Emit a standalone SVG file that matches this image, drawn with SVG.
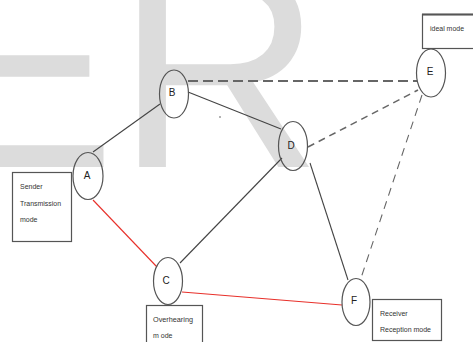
<svg xmlns="http://www.w3.org/2000/svg" width="473" height="342" viewBox="0 0 473 342">
<style>
.wm{font-family:"Liberation Sans",Arial,sans-serif;font-size:286px;fill:#dcdcdc}
.node ellipse{fill:none;stroke:#555;stroke-width:1.2}
.lbl{font-family:"Liberation Sans",Arial,sans-serif;font-size:10px;fill:#222;text-anchor:middle}
.box rect{fill:#fff;stroke:#555;stroke-width:1.2}
.bt{font-family:"Liberation Sans",Arial,sans-serif;font-size:7px;fill:#333}
.solid{stroke:#444;stroke-width:1.1;fill:none}
.red{stroke:#e8302a;stroke-width:1.1;fill:none}
.dash{stroke:#666;fill:none}
</style>
<rect width="473" height="342" fill="#fff"/>
<text class="wm" x="-75" y="167">ER</text>
<g id="connectors">
<line class="solid" x1="93" y1="152" x2="160" y2="104"/>
<line class="solid" x1="188" y1="92" x2="281" y2="129" stroke-width="1.4"/>
<line class="dash" x1="188" y1="81" x2="417" y2="81" stroke-width="2" stroke-dasharray="10 5"/>
<line class="dash" x1="308" y1="147" x2="418" y2="90" stroke-width="1.5" stroke-dasharray="7 5"/>
<line class="dash" x1="422" y1="95" x2="361" y2="278" stroke-width="1.1" stroke-dasharray="8 6"/>
<line class="solid" x1="282" y1="158" x2="180" y2="263"/>
<line class="solid" x1="310" y1="163" x2="348" y2="280"/>
<line class="red" x1="93" y1="200" x2="157" y2="267"/>
<line class="red" x1="182" y1="292" x2="342" y2="305" stroke-width="1.4"/>
</g>
<circle cx="220" cy="117" r="0.8" fill="#555"/>
<g id="node-A" class="node"><ellipse cx="88" cy="176" rx="15" ry="23.5"/><text class="lbl" x="87" y="179">A</text></g>
<g id="node-B" class="node"><ellipse cx="174" cy="94" rx="14.5" ry="24"/><text class="lbl" x="172" y="96">B</text></g>
<g id="node-C" class="node"><ellipse cx="168" cy="281" rx="14.5" ry="23.5"/><text class="lbl" x="166" y="284">C</text></g>
<g id="node-D" class="node"><ellipse cx="293" cy="146" rx="14.5" ry="24.5"/><text class="lbl" x="291" y="149">D</text></g>
<g id="node-E" class="node"><ellipse cx="431" cy="73" rx="14.5" ry="24"/><text class="lbl" x="430" y="75">E</text></g>
<g id="node-F" class="node"><ellipse cx="356" cy="302" rx="14" ry="23.5"/><text class="lbl" x="354" y="304">F</text></g>
<g id="box-sender" class="box"><rect x="12.5" y="172.5" width="59" height="69"/>
<text class="bt" x="20" y="189">Sender</text>
<text class="bt" x="20" y="206" textLength="41" lengthAdjust="spacingAndGlyphs">Transmission</text>
<text class="bt" x="20" y="222">mode</text></g>
<g id="box-overhearing" class="box"><rect x="146.5" y="305.5" width="56" height="40"/>
<text class="bt" x="153" y="322" textLength="40" lengthAdjust="spacingAndGlyphs">Overhearing</text>
<text class="bt" x="153" y="338">m ode</text></g>
<g id="box-receiver" class="box"><rect x="372.5" y="299.5" width="69" height="41"/>
<text class="bt" x="380" y="316">Receiver</text>
<text class="bt" x="380" y="332" textLength="51" lengthAdjust="spacingAndGlyphs">Reception mode</text></g>
<g id="box-ideal" class="box"><rect x="422.5" y="14.5" width="55" height="34"/>
<line x1="422" y1="14.5" x2="473" y2="14.5" stroke="#555" stroke-width="2"/>
<text class="bt" x="430" y="31" textLength="34" lengthAdjust="spacingAndGlyphs">ideal mode</text></g>
</svg>
